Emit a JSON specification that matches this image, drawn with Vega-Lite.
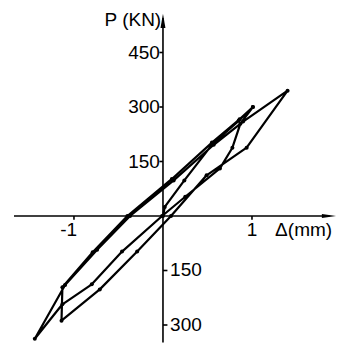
{
  "$schema": "https://vega.github.io/schema/vega-lite/v6.json",
  "width": 349,
  "height": 346,
  "autosize": {"type": "fit", "contains": "padding"},
  "padding": 0,
  "background": "white",
  "config": {"view": {"stroke": null}},
  "encoding": {
    "x": {"field": "x", "type": "quantitative", "scale": {"domain": [-1.831, 2.09], "nice": false, "zero": false}, "axis": null},
    "y": {"field": "y", "type": "quantitative", "scale": {"domain": [-357.8, 594.5], "nice": false, "zero": false}, "axis": null}
  },
  "layer": [
    {
      "data": {"values": [
        {"x": -1.674, "y": 0, "x2": 1.87, "y2": 0},
        {"x": 0, "y": -348, "x2": 0, "y2": 545},
        {"x": -0.04, "y": 450, "x2": 0, "y2": 450},
        {"x": -0.04, "y": 300, "x2": 0, "y2": 300},
        {"x": -0.04, "y": 150, "x2": 0, "y2": 150},
        {"x": 0, "y": -150, "x2": 0.05, "y2": -150},
        {"x": 0, "y": -300, "x2": 0.05, "y2": -300},
        {"x": -1, "y": 0, "x2": -1, "y2": -10},
        {"x": 1, "y": 0, "x2": 1, "y2": -10}
      ]},
      "mark": {"type": "rule", "color": "black", "strokeWidth": 1.6},
      "encoding": {"x2": {"field": "x2"}, "y2": {"field": "y2"}}
    },
    {
      "data": {"values": [{"x": 0, "y": 537}]},
      "mark": {"type": "point", "shape": "M-0.35,1L0,-1L0.35,1Z", "filled": true, "color": "black", "size": 200, "opacity": 1}
    },
    {
      "data": {"values": [{"x": 1.865, "y": 0}]},
      "mark": {"type": "point", "shape": "M-1,-0.3L1,0L-1,0.3Z", "filled": true, "color": "black", "size": 200, "opacity": 1}
    },
    {
      "data": {"values": [
        {"i": 1, "x": 0.0, "y": 0},
        {"i": 2, "x": 0.02, "y": 25},
        {"i": 3, "x": 0.24, "y": 98},
        {"i": 4, "x": 0.56, "y": 199},
        {"i": 5, "x": 0.85, "y": 262},
        {"i": 6, "x": 1.01, "y": 300},
        {"i": 7, "x": 0.87, "y": 254},
        {"i": 8, "x": 0.78, "y": 188},
        {"i": 9, "x": 0.64, "y": 131},
        {"i": 10, "x": 0.25, "y": 53},
        {"i": 11, "x": -0.01, "y": 0},
        {"i": 12, "x": -0.46, "y": -98},
        {"i": 13, "x": -0.8, "y": -188},
        {"i": 14, "x": -1.13, "y": -243},
        {"i": 15, "x": -1.44, "y": -338},
        {"i": 16, "x": -1.1, "y": -190},
        {"i": 17, "x": -0.74, "y": -93},
        {"i": 18, "x": -0.37, "y": 0},
        {"i": 19, "x": 0.12, "y": 98},
        {"i": 20, "x": 0.57, "y": 196},
        {"i": 21, "x": 0.9, "y": 260},
        {"i": 22, "x": 1.4, "y": 345},
        {"i": 23, "x": 0.94, "y": 188},
        {"i": 24, "x": 0.49, "y": 112},
        {"i": 25, "x": 0.09, "y": 0},
        {"i": 26, "x": -0.29, "y": -98},
        {"i": 27, "x": -0.71, "y": -202},
        {"i": 28, "x": -1.14, "y": -288},
        {"i": 29, "x": -1.13, "y": -196},
        {"i": 30, "x": -0.79, "y": -100},
        {"i": 31, "x": -0.4, "y": 0},
        {"i": 32, "x": 0.1, "y": 102},
        {"i": 33, "x": 0.55, "y": 202},
        {"i": 34, "x": 0.86, "y": 266},
        {"i": 35, "x": 1.01, "y": 300}
      ]},
      "mark": {"type": "line", "color": "black", "strokeWidth": 2.2, "strokeJoin": "round", "strokeCap": "round", "point": {"filled": true, "color": "black", "size": 16}},
      "encoding": {"order": {"field": "i", "type": "quantitative"}}
    },
    {
      "data": {"values": [
        {"x": -0.035, "y": 450, "t": "450"},
        {"x": -0.035, "y": 300, "t": "300"},
        {"x": -0.035, "y": 150, "t": "150"},
        {"x": -0.02, "y": 539, "t": "P  (KN)"}
      ]},
      "mark": {"type": "text", "align": "right", "baseline": "middle", "font": "Liberation Sans", "fontSize": 19, "color": "black"},
      "encoding": {"text": {"field": "t"}}
    },
    {
      "data": {"values": [
        {"x": 0.08, "y": -150, "t": "150"},
        {"x": 0.08, "y": -300, "t": "300"},
        {"x": 1.26, "y": -38, "t": "Δ(mm)"}
      ]},
      "mark": {"type": "text", "align": "left", "baseline": "middle", "font": "Liberation Sans", "fontSize": 19, "color": "black"},
      "encoding": {"text": {"field": "t"}}
    },
    {
      "data": {"values": [
        {"x": -1.06, "y": -38, "t": "-1"},
        {"x": 1.0, "y": -38, "t": "1"}
      ]},
      "mark": {"type": "text", "align": "center", "baseline": "middle", "font": "Liberation Sans", "fontSize": 19, "color": "black"},
      "encoding": {"text": {"field": "t"}}
    }
  ]
}
